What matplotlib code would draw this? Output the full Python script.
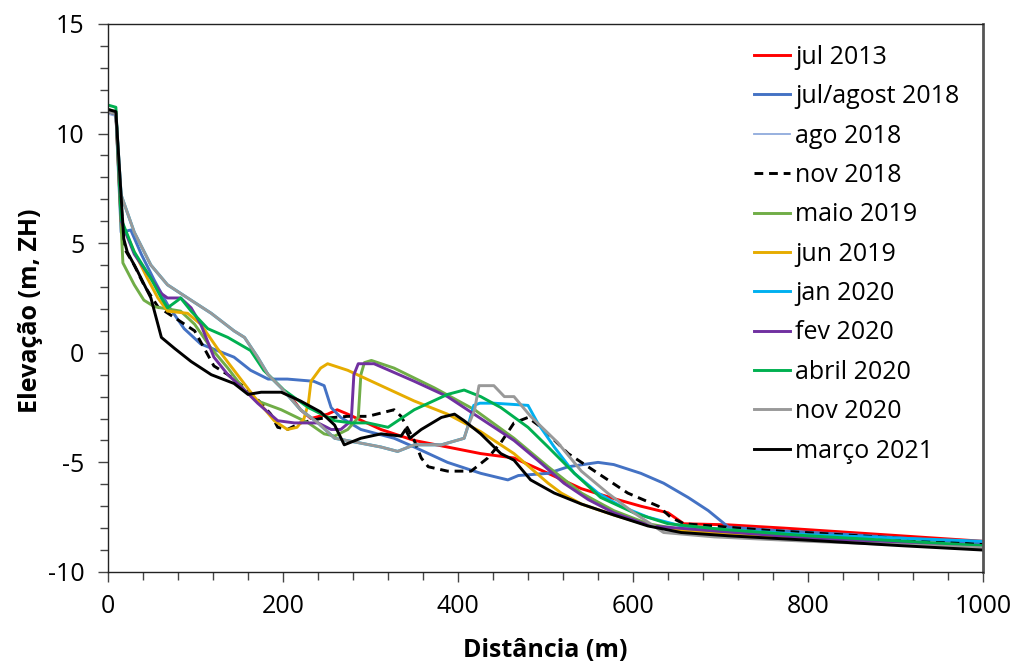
import matplotlib
matplotlib.use("Agg")
import matplotlib.pyplot as plt
from matplotlib.ticker import MultipleLocator

plt.rcParams["font.family"] = ["Open Sans", "DejaVu Sans"]
plt.rcParams["axes.unicode_minus"] = False

# ── DATA ──────────────────────────────────────────────────────────
jul2013_x = [200, 209, 220, 232, 251, 262, 274, 312, 350, 388, 426, 464, 503, 541, 578, 609, 640, 658, 709, 773, 887, 1000]
jul2013_y = [-1.8, -2.0, -2.6, -3.0, -2.8, -2.6, -2.8, -3.5, -4.0, -4.3, -4.6, -4.8, -5.5, -6.2, -6.65, -7.0, -7.3, -7.8, -7.85, -8.0, -8.3, -8.6]

julago2018_x = [0, 9, 15, 26, 38, 53, 68, 87, 106, 125, 144, 163, 183, 205, 235, 247, 255, 266, 289, 327, 350, 388, 426, 457, 469, 503, 526, 560, 578, 609, 635, 663, 686, 709, 760, 850, 1000]
julago2018_y = [11.0, 10.9, 5.5, 5.6, 4.5, 3.3, 2.2, 1.1, 0.4, 0.1, -0.2, -0.8, -1.2, -1.2, -1.3, -1.5, -2.5, -2.95, -3.5, -3.9, -4.3, -5.0, -5.5, -5.8, -5.6, -5.5, -5.2, -5.0, -5.1, -5.5, -5.95, -6.6, -7.2, -7.95, -8.1, -8.3, -8.7]

ago2018_x = [0, 9, 13]
ago2018_y = [10.9, 10.8, 8.0]

nov2018_x = [0, 9, 18, 30, 41, 57, 80, 99, 110, 121, 137, 160, 175, 186, 194, 205, 220, 243, 274, 297, 327, 335, 350, 358, 366, 388, 415, 434, 449, 464, 480, 495, 526, 560, 594, 629, 643, 658, 754, 880, 1000]
nov2018_y = [11.0, 10.9, 4.8, 4.0, 3.1, 2.1, 1.5, 1.0, 0.2, -0.6, -1.0, -1.7, -2.3, -2.8, -3.4, -3.5, -3.2, -3.0, -2.9, -2.9, -2.6, -2.9, -4.0, -4.8, -5.2, -5.4, -5.4, -4.8, -4.1, -3.2, -2.95, -3.4, -4.6, -5.5, -6.4, -7.0, -7.5, -7.8, -8.1, -8.4, -8.75]

mai2019_x = [0, 9, 17, 30, 41, 53, 68, 83, 99, 118, 137, 156, 171, 198, 229, 247, 259, 274, 286, 289, 293, 301, 327, 373, 419, 464, 503, 541, 578, 617, 660, 800, 1000]
mai2019_y = [11.1, 11.0, 4.1, 3.1, 2.4, 2.1, 2.0, 1.9, 1.3, 0.2, -0.7, -1.7, -2.2, -2.6, -3.2, -3.7, -3.8, -3.5, -2.95, -1.0, -0.45, -0.35, -0.7, -1.6, -2.6, -3.9, -5.2, -6.4, -7.2, -7.8, -8.1, -8.45, -8.85]

jun2019_x = [0, 9, 15, 30, 45, 57, 68, 91, 106, 125, 144, 167, 190, 205, 216, 224, 229, 232, 243, 251, 274, 312, 350, 388, 426, 464, 503, 518, 541, 578, 620, 660, 800, 1000]
jun2019_y = [11.0, 10.9, 6.0, 4.6, 3.4, 2.5, 1.9, 1.8, 1.3, 0.2, -0.8, -2.0, -3.1, -3.5, -3.4, -3.0, -2.3, -1.3, -0.7, -0.5, -0.8, -1.5, -2.2, -2.8, -3.6, -4.6, -5.95, -6.4, -6.9, -7.4, -7.9, -8.15, -8.5, -8.85]

jan2020_x = [0, 9, 15, 30, 49, 68, 91, 118, 144, 156, 171, 183, 198, 220, 240, 259, 286, 312, 331, 350, 381, 407, 411, 418, 425, 441, 480, 491, 510, 533, 560, 586, 617, 655, 700, 800, 1000]
jan2020_y = [11.0, 10.9, 7.2, 5.5, 4.0, 3.1, 2.5, 1.8, 1.0, 0.7, -0.2, -1.0, -1.6, -2.6, -3.2, -3.9, -4.1, -4.3, -4.5, -4.2, -4.2, -3.9, -3.4, -2.4, -2.3, -2.3, -2.4, -3.2, -4.3, -5.5, -6.4, -7.0, -7.5, -7.9, -8.05, -8.3, -8.6]

fev2020_x = [0, 9, 15, 30, 49, 61, 68, 83, 95, 106, 121, 137, 156, 171, 194, 213, 240, 255, 266, 278, 281, 286, 304, 350, 388, 426, 464, 491, 521, 549, 578, 620, 700, 800, 1000]
fev2020_y = [11.0, 10.9, 6.0, 4.5, 3.4, 2.7, 2.5, 2.5, 2.05, 1.3, -0.2, -1.0, -1.7, -2.3, -3.1, -3.2, -3.2, -3.5, -3.5, -3.1, -1.0, -0.5, -0.5, -1.3, -2.0, -3.0, -4.0, -4.9, -5.95, -6.7, -7.3, -7.9, -8.15, -8.45, -8.9]

abr2020_x = [0, 9, 15, 30, 49, 61, 68, 80, 83, 95, 114, 137, 163, 178, 201, 229, 259, 278, 297, 320, 350, 388, 407, 426, 449, 480, 503, 533, 563, 601, 640, 700, 800, 1000]
abr2020_y = [11.3, 11.2, 6.1, 4.6, 3.4, 2.5, 2.05, 2.4, 2.5, 1.9, 1.1, 0.7, 0.1, -0.8, -1.7, -2.5, -3.1, -3.2, -3.2, -3.4, -2.6, -1.9, -1.7, -2.0, -2.5, -3.4, -4.3, -5.5, -6.6, -7.3, -7.8, -8.05, -8.35, -8.8]

nov2020_x = [0, 9, 15, 30, 49, 68, 91, 118, 144, 156, 171, 183, 198, 220, 240, 259, 286, 312, 331, 350, 381, 407, 411, 419, 424, 441, 453, 464, 483, 514, 541, 571, 601, 635, 693, 800, 1000]
nov2020_y = [11.0, 10.9, 7.2, 5.5, 4.0, 3.1, 2.5, 1.8, 1.0, 0.7, -0.2, -1.0, -1.6, -2.6, -3.2, -3.9, -4.1, -4.3, -4.5, -4.2, -4.2, -3.9, -3.4, -2.6, -1.5, -1.5, -2.0, -2.0, -2.9, -4.1, -5.4, -6.4, -7.3, -8.2, -8.4, -8.6, -8.9]

mar2021_x = [0, 9, 18, 22, 34, 49, 61, 76, 95, 118, 144, 160, 175, 198, 220, 243, 259, 270, 289, 312, 335, 340, 345, 358, 381, 396, 407, 426, 449, 464, 483, 510, 541, 578, 617, 655, 709, 800, 906, 1000]
mar2021_y = [11.1, 11.0, 5.2, 4.6, 3.7, 2.5, 0.7, 0.2, -0.4, -1.0, -1.4, -1.9, -1.8, -1.8, -2.2, -2.7, -3.3, -4.2, -3.9, -3.7, -3.8, -3.5, -3.9, -3.5, -2.95, -2.8, -3.1, -3.7, -4.6, -4.9, -5.8, -6.4, -6.9, -7.4, -7.9, -8.2, -8.35, -8.55, -8.8, -9.0]

labels = ["jul 2013", "jul/agost 2018", "ago 2018", "nov 2018", "maio 2019", "jun 2019",
          "jan 2020", "fev 2020", "abril 2020", "nov 2020", "março 2021"]
xs = [jul2013_x, julago2018_x, ago2018_x, nov2018_x, mai2019_x, jun2019_x,
      jan2020_x, fev2020_x, abr2020_x, nov2020_x, mar2021_x]
ys = [jul2013_y, julago2018_y, ago2018_y, nov2018_y, mai2019_y, jun2019_y,
      jan2020_y, fev2020_y, abr2020_y, nov2020_y, mar2021_y]
colors = ["#FF0000", "#4472C4", "#8FAADC", "#000000", "#70AD47", "#E6AC00",
          "#00B0F0", "#7030A0", "#00B050", "#999999", "#000000"]

FS = 18

# ── PLOT ──────────────────────────────────────────────────────────
fig = plt.figure(figsize=(10.18, 6.64), dpi=100)
ax = fig.add_axes([0.1061, 0.1386, 0.8595, 0.8253])

for x, y, c, lab in zip(xs, ys, colors, labels):
    lw = 1.3 if lab == "ago 2018" else 2.1
    if lab == "nov 2018":
        ax.plot(x, y, color=c, lw=lw, dashes=(3, 2), label=lab)
    else:
        ax.plot(x, y, color=c, lw=lw, label=lab)

ax.set_xlim(0, 1000); ax.set_ylim(-10, 15)
ax.xaxis.set_major_locator(MultipleLocator(200)); ax.xaxis.set_minor_locator(MultipleLocator(40))
ax.yaxis.set_major_locator(MultipleLocator(5)); ax.yaxis.set_minor_locator(MultipleLocator(1))
ax.tick_params(which="both", direction="out", width=1, color="#444444", labelsize=FS)
ax.tick_params(which="major", length=7)
ax.tick_params(which="minor", length=6)
ax.tick_params(axis="x", pad=9); ax.tick_params(axis="y", pad=10)
for s in ["left", "bottom", "top"]:
    ax.spines[s].set_linewidth(1.0); ax.spines[s].set_color("#222222")
ax.spines["right"].set_linewidth(2.0); ax.spines["right"].set_color("#555555")

ax.set_xlabel("Distância (m)", fontsize=FS, fontweight="bold")
ax.set_ylabel("Elevação (m, ZH)", fontsize=FS, fontweight="bold")
ax.xaxis.set_label_coords(0.5, -0.12)
ax.yaxis.set_label_coords(-0.074, 0.476)

ax.legend(loc="upper left", bbox_to_anchor=(0.738, 0.962), frameon=False, fontsize=FS,
          handlelength=1.45, handletextpad=0.2, labelspacing=0.575, borderaxespad=0, borderpad=0)

fig.savefig("out.png", dpi=100)
